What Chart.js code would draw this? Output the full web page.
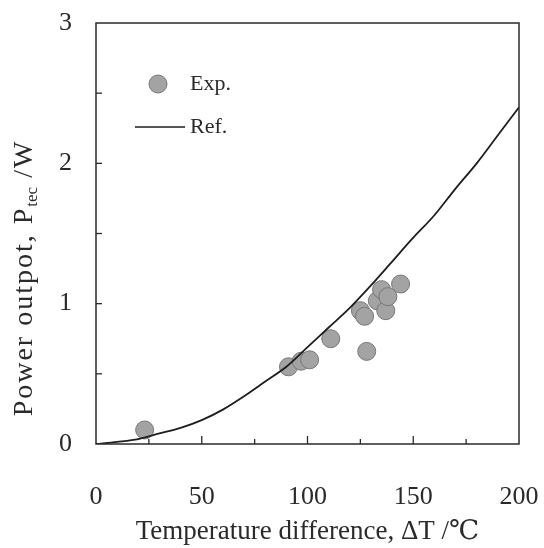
<!DOCTYPE html>
<html>
<head>
<meta charset="utf-8">
<script src="https://cdn.jsdelivr.net/npm/chart.js@4/dist/chart.umd.min.js"></script>
<style>
  html, body { margin: 0; padding: 0; background: #fff; }
  #wrap { width: 544px; height: 548px; position: relative; }
</style>
</head>
<body>
<div id="wrap"><canvas id="chart"></canvas></div>
<script>
/* ---- data ---- */
const expDT  = [23, 91, 97, 101, 111, 125, 127, 128, 133, 135, 137, 138, 144];
const expP   = [0.10, 0.55, 0.59, 0.60, 0.75, 0.95, 0.91, 0.66, 1.02, 1.10, 0.95, 1.05, 1.14];

const refDT  = [0, 10, 20, 30, 40, 50, 60, 70, 80, 90, 100, 110, 120, 130, 140, 150, 160, 170, 180, 190, 200];
const refP   = [0, 0.015, 0.035, 0.075, 0.115, 0.17, 0.245, 0.34, 0.445, 0.55, 0.69, 0.83, 0.97, 1.13, 1.30, 1.47, 1.63, 1.82, 2.00, 2.20, 2.40];

const xTickLabels = [0, 50, 100, 150, 200];
const yTickLabels = [0, 1, 2, 3];

const seriesNames = ['Exp.', 'Ref.'];
const SERIF = "'Liberation Serif', 'DejaVu Serif', serif";
const INK   = '#2a2a2a';

/* ---- frame, inward ticks, legend, y title ---- */
const paperPlugin = {
  id: 'paper',
  afterDraw(chart) {
    const { ctx, chartArea: a, scales: { x, y } } = chart;
    ctx.save();
    ctx.strokeStyle = INK;
    ctx.lineWidth = 1.5;
    ctx.strokeRect(a.left, a.top, a.right - a.left, a.bottom - a.top);

    ctx.lineWidth = 1.3;
    x.ticks.forEach(t => {
      if (t.value === 0 || t.value === 200) return;
      const px = x.getPixelForValue(t.value);
      const len = xTickLabels.includes(t.value) ? 8 : 5;
      ctx.beginPath(); ctx.moveTo(px, a.bottom); ctx.lineTo(px, a.bottom - len); ctx.stroke();
    });
    y.ticks.forEach(t => {
      if (t.value === 0 || t.value === 3) return;
      const py = y.getPixelForValue(t.value);
      ctx.beginPath(); ctx.moveTo(a.left, py); ctx.lineTo(a.left + 6, py); ctx.stroke();
    });

    // legend
    const exp = chart.data.datasets[0], ref = chart.data.datasets[1];
    ctx.fillStyle = exp.backgroundColor;
    ctx.strokeStyle = exp.borderColor;
    ctx.lineWidth = 1;
    ctx.beginPath(); ctx.arc(158, 84, 9, 0, Math.PI * 2); ctx.fill(); ctx.stroke();
    ctx.strokeStyle = ref.borderColor;
    ctx.lineWidth = 1.6;
    ctx.beginPath(); ctx.moveTo(135, 127); ctx.lineTo(185, 127); ctx.stroke();
    ctx.fillStyle = INK;
    ctx.font = '22px ' + SERIF;
    ctx.textBaseline = 'middle';
    ctx.textAlign = 'left';
    ctx.fillText(seriesNames[0], 190, 84);
    ctx.fillText(seriesNames[1], 190, 127);

    // y axis title with subscript
    ctx.translate(32, 278);
    ctx.rotate(-Math.PI / 2);
    ctx.textBaseline = 'alphabetic';
    const big = '28px ' + SERIF, small = '17px ' + SERIF;
    const parts = [['Power outpot, P', big, 0, 2], ['tec', small, 5, 0], [' /W', big, 0, 2]];
    let w = 0;
    parts.forEach(p => {
      ctx.font = p[1];
      ctx.letterSpacing = p[3] + 'px';
      w += ctx.measureText(p[0]).width;
    });
    let cx = -w / 2;
    parts.forEach(p => {
      ctx.font = p[1];
      ctx.letterSpacing = p[3] + 'px';
      ctx.fillText(p[0], cx, p[2]);
      cx += ctx.measureText(p[0]).width;
    });
    ctx.restore();
  }
};

new Chart(document.getElementById('chart').getContext('2d'), {
  type: 'scatter',
  data: {
    datasets: [
      {
        label: seriesNames[0],
        data: expDT.map((v, i) => ({ x: v, y: expP[i] })),
        backgroundColor: '#a3a3a3',
        borderColor: '#777777',
        borderWidth: 1,
        pointRadius: 9,
        order: 2,
      },
      {
        label: seriesNames[1],
        type: 'line',
        data: refDT.map((v, i) => ({ x: v, y: refP[i] })),
        borderColor: '#1e1e1e',
        borderWidth: 1.8,
        pointRadius: 0,
        fill: false,
        cubicInterpolationMode: 'monotone',
        order: 1,
      },
    ],
  },
  options: {
    responsive: true,
    maintainAspectRatio: false,
    animation: false,
    layout: { padding: { left: 0, right: 25, top: 23, bottom: 0 } },
    plugins: { legend: { display: false }, tooltip: { enabled: false } },
    scales: {
      x: {
        type: 'linear',
        min: 0, max: 200,
        grid: { display: false },
        border: { display: false },
        afterFit: s => { s.height = 104; s.paddingLeft = 0; s.paddingRight = 0; },
        ticks: {
          stepSize: 25,
          padding: 30,
          color: INK,
          font: { family: SERIF, size: 26 },
          maxRotation: 0,
          autoSkip: false,
          callback: v => xTickLabels.includes(v) ? String(v) : '',
        },
        title: {
          display: true,
          text: 'Temperature difference, ΔT /℃',
          color: INK,
          font: { family: SERIF, size: 27 },
          padding: { top: 4, bottom: 0 },
        },
      },
      y: {
        min: 0, max: 3,
        grid: { display: false },
        border: { display: false },
        afterFit: s => { s.width = 96; s.paddingTop = 0; s.paddingBottom = 0; },
        ticks: {
          stepSize: 0.5,
          padding: 16,
          color: INK,
          font: { family: SERIF, size: 26 },
          autoSkip: false,
          callback: v => yTickLabels.includes(v) ? String(v) : '',
        },
      },
    },
  },
  plugins: [paperPlugin],
});
</script>
</body>
</html>
